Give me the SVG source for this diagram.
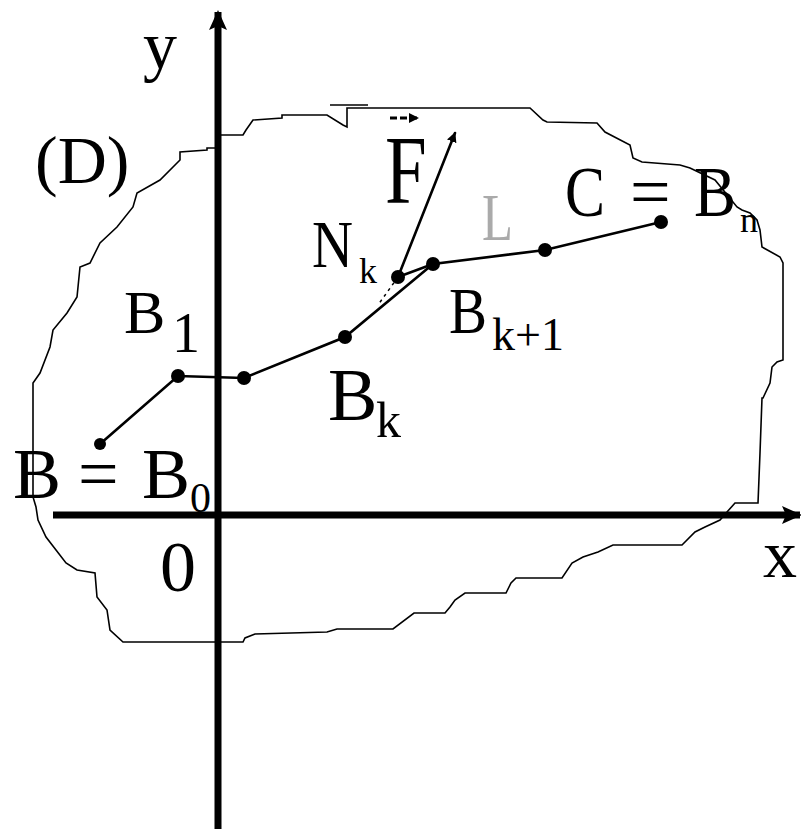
<svg xmlns="http://www.w3.org/2000/svg" width="801" height="829" viewBox="0 0 801 829">
<style>
text{font-family:"Liberation Serif","Times New Roman",serif;fill:#000}
.dot{fill:#000}
.seg{stroke:#000;stroke-width:2.6;fill:none;stroke-linecap:round}
.bnd{stroke:#000;stroke-width:1.6;fill:none;stroke-linejoin:miter}
.axis{stroke:#000;stroke-width:7;fill:none}
.faint{fill:#aaa}
</style>
<defs>
<marker id="ah" markerWidth="10" markerHeight="10" refX="9" refY="5" orient="auto" markerUnits="userSpaceOnUse">
<path d="M0,0 L10,5 L0,10 Z" fill="#000"/>
</marker>
<marker id="axh" markerWidth="20" markerHeight="20" refX="18" refY="10" orient="auto" markerUnits="userSpaceOnUse">
<path d="M0,1 L20,10 L0,19 L4,10 Z" fill="#000"/>
</marker>
</defs>
<rect width="801" height="829" fill="#fff"/>

<g id="region-D">
<path class="bnd" d="M218,135 L243,135 L246,130 L253,120 L282,118 L282,115 L327,115 L343,125 L347,127 L347,108 L530,108 L543,120 L547,122 L597,123 L605,132 L630,145 L633,158 L642,162 L680,165 L690,168 L715,180 L737,207 L742,210 L750,213 L757,220 L760,230 L762,247 L780,257 L783,263 L783,360 L777,362 L772,367 L770,383 L763,398 L762,398 L760,453 L758,503 L735,503 L727,512 L720,520 L705,527 L695,532 L682,545 L613,545 L598,552 L583,557 L572,563 L562,578 L516,578 L511,583 L506,593 L465,593 L455,600 L450,607 L445,613 L414,613 L393,629 L337,629 L327,632 L255,634 L245,638 L243,642 L123,642 L110,630 L107,610 L97,597 L95,573 L77,570 L66,563 L46,537 L38,520 L36,507 L33,497 L33,383 L40,373 L50,347 L53,330 L67,313 L77,297 L80,267 L90,263 L100,243 L117,227 L133,207 L137,193 L160,180 L180,160 L180,152 L207,150 L207,148 L218,148"/>
<line class="bnd" x1="330" y1="105" x2="368" y2="105"/>
<text x="35" y="183" font-size="68">(D)</text>
</g>

<g id="axes">
<line class="axis" x1="218" y1="829" x2="218" y2="12" marker-end="url(#axh)"/>
<line class="axis" x1="53" y1="515" x2="800" y2="515" marker-end="url(#axh)"/>
<text x="143" y="69" font-size="68">y</text>
<text x="763" y="577" font-size="68">x</text>
<text x="160" y="591" font-size="72">0</text>
</g>

<g id="connectors">
<polyline class="seg" points="100,444 178,376 244,378 345,337 433,264 545,250 661,222"/>
<line class="seg" x1="398" y1="277" x2="433" y2="264" stroke-width="1.6"/>
<line x1="398" y1="277" x2="378" y2="305" stroke="#000" stroke-width="1.5" stroke-dasharray="3 4"/>
<line class="seg" x1="398" y1="277" x2="455" y2="133" stroke-width="2" marker-end="url(#ah)"/>
<line x1="390" y1="118" x2="418" y2="118" stroke="#000" stroke-width="3" stroke-dasharray="7 3" marker-end="url(#ah)"/>
</g>

<g id="node-B0">
<circle class="dot" cx="100" cy="444" r="6"/>
<text font-size="72" y="498"><tspan x="13">B</tspan><tspan x="78">=</tspan><tspan x="142">B</tspan></text>
<text x="190" y="512" font-size="42">0</text>
</g>

<g id="node-B1">
<circle class="dot" cx="178" cy="376" r="7"/>
<text x="124" y="333" font-size="62">B</text>
<text x="172" y="352" font-size="56">1</text>
</g>

<g id="node-B2">
<circle class="dot" cx="244" cy="378" r="7"/>
</g>

<g id="node-Bk">
<circle class="dot" cx="345" cy="337" r="7"/>
<text x="328" y="420" font-size="74">B</text>
<text x="376" y="437" font-size="50">k</text>
</g>

<g id="node-Nk">
<circle class="dot" cx="398" cy="277" r="7"/>
<text x="312" y="267" font-size="68" textLength="41" lengthAdjust="spacingAndGlyphs">N</text>
<text x="359" y="283" font-size="36" fill="#333">k</text>
</g>

<g id="node-Bk1">
<circle class="dot" cx="433" cy="264" r="7"/>
<text x="449" y="333" font-size="66" textLength="38" lengthAdjust="spacingAndGlyphs">B</text>
<text x="492" y="350" font-size="46">k+1</text>
</g>

<g id="node-B3">
<circle class="dot" cx="545" cy="250" r="7"/>
</g>

<g id="node-C">
<circle class="dot" cx="661" cy="222" r="7"/>
<text y="216" font-size="72" x="565" textLength="40" lengthAdjust="spacingAndGlyphs">C</text>
<text y="216" font-size="72" x="630">=</text>
<text y="216" font-size="72" x="694" textLength="42" lengthAdjust="spacingAndGlyphs">B</text>
<text x="740" y="232" font-size="36">n</text>
</g>

<g id="label-F">
<text transform="translate(385,203) scale(1,1.3)" font-size="75">F</text>
</g>

<g id="label-L">
<text class="faint" x="482" y="240" font-size="68" textLength="31" lengthAdjust="spacingAndGlyphs">L</text>
</g>
</svg>
